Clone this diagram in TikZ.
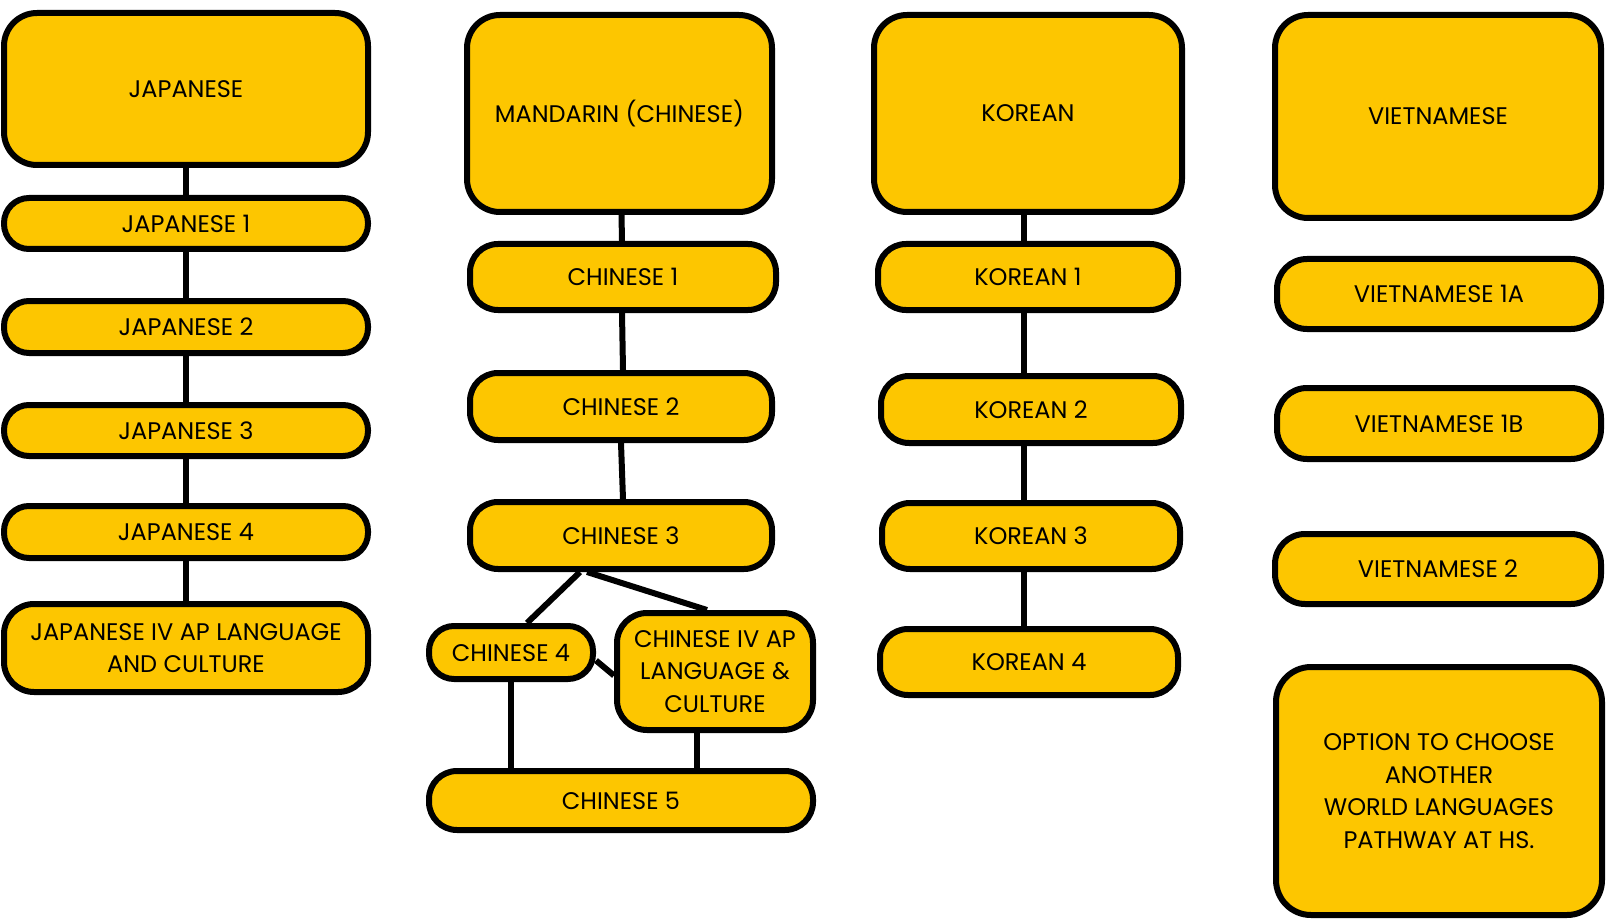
\documentclass[tikz,border=0pt]{standalone}
\usepackage{fontspec}
\setmainfont{Poppins}
\usetikzlibrary{positioning}
\definecolor{pathyellow}{HTML}{FDC600}
\tikzset{
	course/.style={draw=black, line width=6pt, fill=pathyellow, rounded corners=#1, align=center,
		inner sep=0pt, font=\fontsize{24}{32.5}\selectfont},
	course/.default=25pt,
	link/.style={line width=6pt, draw=black}
}

\begin{document}
\begin{tikzpicture}[x=1pt,y=-1pt]
	\useasboundingbox (0,0) rectangle (1607,920);
	% japanese column
	\node[course=33pt, minimum width=364, minimum height=152] (jap) at (186,89) {JAPANESE};
	\node[course, minimum width=364, minimum height=51] (jap1) at (186,223.5) {JAPANESE 1};
	\node[course, minimum width=364, minimum height=52] (jap2) at (186,327) {JAPANESE 2};
	\node[course, minimum width=364, minimum height=51] (jap3) at (186,430.5) {JAPANESE 3};
	\node[course, minimum width=364, minimum height=52] (jap4) at (186,532) {JAPANESE 4};
	\node[course=30pt, minimum width=364, minimum height=88] (japap) at (186,648) {JAPANESE IV AP LANGUAGE\\AND CULTURE};
	\foreach \a/\b in {jap/jap1, jap1/jap2, jap2/jap3, jap3/jap4, jap4/japap}
		\draw[link] (\a.south) -- (\b.north);
	% mandarin column
	\node[course=33pt, minimum width=305, minimum height=197] (man) at (619.5,113.5) {MANDARIN (CHINESE)};
	\node[course=28pt, minimum width=306, minimum height=66] (ch1) at (623,277) {CHINESE 1};
	\node[course=28pt, minimum width=302, minimum height=67] (ch2) at (621,406.5) {CHINESE 2};
	\node[course=28pt, minimum width=302, minimum height=67] (ch3) at (621,535.5) {CHINESE 3};
	\node[course, minimum width=164, minimum height=53] (ch4) at (511,652.5) {CHINESE 4};
	\node[course=30pt, minimum width=196, minimum height=117] (chap) at (715,671.5) {CHINESE IV AP\\LANGUAGE \&\\CULTURE};
	\node[course=28pt, minimum width=384, minimum height=59] (ch5) at (621,800.5) {CHINESE 5};
	\draw[link] ([xshift=2pt]man.south) -- ([xshift=-1pt]ch1.north);
	\draw[link] ([xshift=-1pt]ch1.south) -- ([xshift=2pt]ch2.north);
	\draw[link] (ch2.south) -- ([xshift=2pt]ch3.north);
	\draw[link] ([xshift=-41pt]ch3.south) -- ([xshift=16pt]ch4.north);
	\draw[link] ([xshift=-34pt]ch3.south) -- ([xshift=-8pt]chap.north);
	\draw[link] ([yshift=-8pt]ch4.east) -- ([yshift=-4pt]chap.west);
	\coordinate (apfoot) at ([xshift=-18pt]chap.south);
	\draw[link] (ch4.south) -- (ch4.south |- ch5.north);
	\draw[link] (apfoot) -- (apfoot |- ch5.north);
	% korean column
	\node[course=33pt, minimum width=308, minimum height=197] (kor) at (1028,113.5) {KOREAN};
	\node[course=28pt, minimum width=300, minimum height=66] (kor1) at (1028,277) {KOREAN 1};
	\node[course=28pt, minimum width=300, minimum height=67] (kor2) at (1031,409.5) {KOREAN 2};
	\node[course=28pt, minimum width=298, minimum height=66] (kor3) at (1031,536) {KOREAN 3};
	\node[course=28pt, minimum width=298, minimum height=66] (kor4) at (1029,662) {KOREAN 4};
	\coordinate (kline) at (1024,0);
	\foreach \a/\b in {kor/kor1, kor1/kor2, kor2/kor3, kor3/kor4}
		\draw[link] (\a.south -| kline) -- (\b.north -| kline);
	% vietnamese column
	\node[course=33pt, minimum width=326, minimum height=203] (viet) at (1438,116.5) {VIETNAMESE};
	\node[course=30pt, minimum width=324, minimum height=70] (vi1a) at (1439,294) {VIETNAMESE 1A};
	\node[course=30pt, minimum width=324, minimum height=71] (vi1b) at (1439,423.5) {VIETNAMESE 1B};
	\node[course=30pt, minimum width=326, minimum height=70] (vi2) at (1438,569) {VIETNAMESE 2};
	\node[course=35pt, minimum width=326, minimum height=248] (opt) at (1439,791) {OPTION TO CHOOSE\\ANOTHER\\WORLD LANGUAGES\\PATHWAY AT HS.};
\end{tikzpicture}
\end{document}
